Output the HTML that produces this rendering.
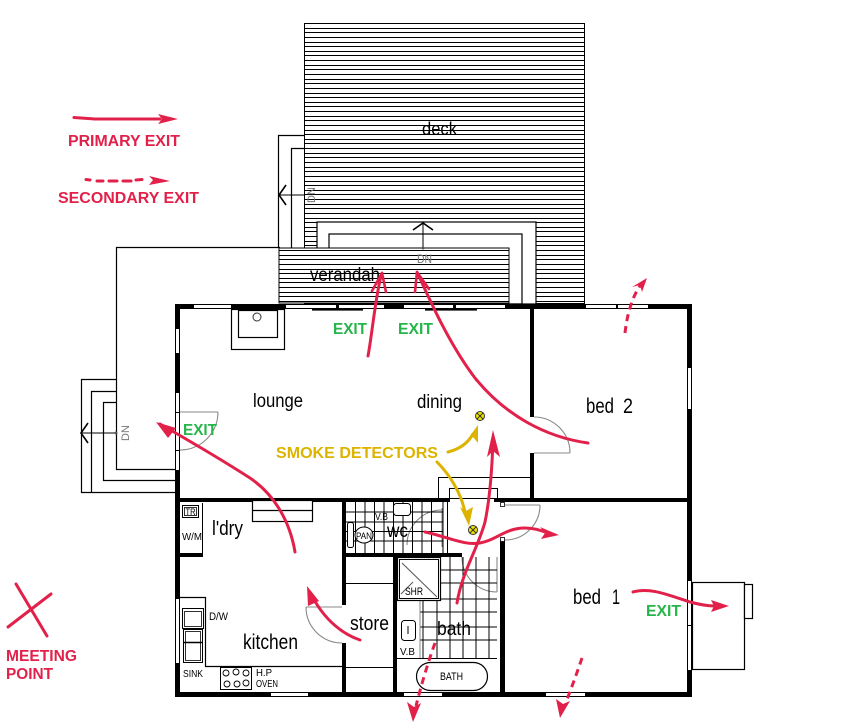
<!DOCTYPE html>
<html><head><meta charset="utf-8">
<style>
html,body{margin:0;padding:0;background:#fff;}
svg{display:block;}
</style></head><body>
<svg width="847" height="723" viewBox="0 0 847 723" xmlns="http://www.w3.org/2000/svg" font-family="'Liberation Sans', sans-serif">
<rect width="847" height="723" fill="#fff"/>

<!-- DECK -->
<rect x="304.5" y="23.5" width="280" height="280" fill="#fff" stroke="#000"/>
<path shape-rendering="crispEdges" stroke="#000" stroke-width="1" fill="none" d="M304,23.5h281M304,28.5h281M304,32.5h281M304,37.5h281M304,42.5h281M304,46.5h281M304,51.5h281M304,55.5h281M304,60.5h281M304,65.5h281M304,69.5h281M304,74.5h281M304,79.5h281M304,83.5h281M304,88.5h281M304,93.5h281M304,97.5h281M304,102.5h281M304,106.5h281M304,111.5h281M304,116.5h281M304,120.5h281M304,125.5h281M304,130.5h281M304,134.5h281M304,139.5h281M304,143.5h281M304,148.5h281M304,153.5h281M304,157.5h281M304,162.5h281M304,167.5h281M304,171.5h281M304,176.5h281M304,181.5h281M304,185.5h281M304,190.5h281M304,194.5h281M304,199.5h281M304,204.5h281M304,208.5h281M304,213.5h281M304,218.5h281M304,222.5h281M304,227.5h281M304,231.5h281M304,236.5h281M304,241.5h281M304,245.5h281M304,250.5h281M304,255.5h281M304,259.5h281M304,264.5h281M304,269.5h281M304,273.5h281M304,278.5h281M304,282.5h281M304,287.5h281M304,292.5h281M304,296.5h281M304,301.5h281"/>
<!-- verandah stairs -->
<rect x="317" y="222" width="219" height="82" fill="#fff" stroke="#000" stroke-width="1.2"/>
<rect x="329" y="234" width="193" height="70" fill="none" stroke="#000" stroke-width="1.2"/>
<!-- verandah -->
<rect x="279" y="248" width="230" height="55" fill="#fff" stroke="#000"/>
<path shape-rendering="crispEdges" stroke="#000" stroke-width="1" fill="none" d="M279,250.5h230M279,255.5h230M279,259.5h230M279,264.5h230M279,269.5h230M279,273.5h230M279,278.5h230M279,282.5h230M279,287.5h230M279,292.5h230M279,296.5h230M279,301.5h230"/>
<rect x="279" y="248" width="230" height="55" fill="none" stroke="#000"/>
<line x1="423" y1="223" x2="423" y2="248" stroke="#000" stroke-width="1"/>
<polyline points="413,230 423,223 433,230" fill="none" stroke="#000" stroke-width="1.6"/>
<circle cx="423" cy="248" r="1.5" fill="#555"/>
<text x="417" y="263" font-size="12" fill="#777" textLength="15" lengthAdjust="spacingAndGlyphs">DN</text>
<text x="310" y="281" font-size="19" fill="#000" textLength="70" lengthAdjust="spacingAndGlyphs">verandah</text>
<text x="422" y="135" font-size="18" fill="#000" textLength="35" lengthAdjust="spacingAndGlyphs">deck</text>

<!-- deck left stairs -->
<polyline points="304,135.5 278.5,135.5 278.5,248" fill="none" stroke="#000" stroke-width="1.2"/>
<polyline points="304,148.5 291.5,148.5 291.5,248" fill="none" stroke="#000" stroke-width="1.2"/>
<line x1="279" y1="195" x2="304" y2="195" stroke="#000"/>
<polyline points="286,185 279,195 286,205" fill="none" stroke="#000" stroke-width="1.6"/>
<text transform="translate(315,195) rotate(-90)" text-anchor="middle" font-size="11" fill="#777">DN</text>

<!-- L outline -->
<polyline points="280,247.5 116.5,247.5 116.5,469.5 176,469.5" fill="none" stroke="#000" stroke-width="1.2"/>
<!-- lounge stairs -->
<polyline points="116,379.5 81.5,379.5 81.5,492.5 176,492.5" fill="none" stroke="#000" stroke-width="1.2"/>
<polyline points="116,391.5 91.5,391.5 91.5,492" fill="none" stroke="#000" stroke-width="1.2"/>
<polyline points="116,402.5 103.5,402.5 103.5,480.5 176,480.5" fill="none" stroke="#000" stroke-width="1.2"/>
<line x1="82" y1="433" x2="116" y2="433" stroke="#000"/>
<polyline points="88,423 81,433 88,443" fill="none" stroke="#000" stroke-width="1.6"/>
<circle cx="116" cy="433" r="1.5" fill="#555"/>
<text transform="translate(129,433) rotate(-90)" text-anchor="middle" font-size="11" fill="#777">DN</text>

<!-- WALLS -->
<g fill="#000">
<rect x="175" y="304" width="517" height="5"/>
<rect x="175" y="304" width="5" height="393"/>
<rect x="687" y="304" width="5" height="393"/>
<rect x="175" y="692" width="517" height="5"/>
<rect x="175" y="498" width="275" height="4"/>
<rect x="494" y="498" width="198" height="4"/>
<rect x="530" y="304" width="4" height="113"/>
<rect x="530" y="453" width="4" height="47"/>
<rect x="342" y="500" width="4" height="105"/>
<rect x="342" y="643" width="4" height="54"/>
<rect x="342" y="553" width="120" height="4"/>
<rect x="393" y="555" width="4" height="140"/>
<rect x="500" y="540" width="5" height="155"/>
<rect x="175" y="553" width="28" height="4"/>
<rect x="312" y="309" width="51" height="1.6"/>
<rect x="425" y="309" width="52" height="1.6"/>
</g>
<!-- windows -->
<g fill="#fff" stroke="#000" stroke-width="1">
<rect x="193.5" y="304.5" width="38" height="4"/>
<rect x="285.5" y="304.5" width="51" height="4"/>
<rect x="338.5" y="304.5" width="46" height="4"/>
<rect x="403.5" y="304.5" width="50" height="4"/>
<rect x="455.5" y="304.5" width="50" height="4"/>
<rect x="585.5" y="304.5" width="31" height="4"/>
<rect x="617.5" y="304.5" width="31" height="4"/>
<rect x="175.5" y="328.5" width="4" height="25"/>
<rect x="175.5" y="392.5" width="4" height="20"/>
<rect x="175.5" y="412.5" width="4" height="38"/>
<rect x="175.5" y="450.5" width="4" height="20"/>
<rect x="175.5" y="598.5" width="4" height="65"/>
<rect x="687.5" y="367.5" width="4" height="42"/>
<rect x="687.5" y="580.5" width="4" height="45"/>
<rect x="687.5" y="625.5" width="4" height="45"/>
<rect x="270.5" y="692.5" width="38" height="4"/>
<rect x="403.5" y="692.5" width="39" height="4"/>
<rect x="545.5" y="692.5" width="40" height="4"/>
</g>

<!-- lounge fireplace -->
<rect x="231.5" y="309.5" width="53" height="40" fill="#fff" stroke="#000" stroke-width="1.2"/>
<rect x="238.5" y="310.5" width="39" height="27" fill="#fff" stroke="#000" stroke-width="1.2"/>
<circle cx="257" cy="317" r="4" fill="none" stroke="#333"/>

<!-- doors -->
<g fill="none" stroke="#888" stroke-width="1.1">
<line x1="180" y1="412" x2="218" y2="412"/>
<path d="M218,412 A38,38 0 0 1 180,450"/>
<line x1="534" y1="453" x2="570" y2="453"/>
<path d="M534,417 A36,36 0 0 1 570,453"/>
<line x1="505" y1="505" x2="540" y2="505"/>
<path d="M540,505 A35,35 0 0 1 505,540"/>
<line x1="306" y1="607" x2="342" y2="607"/>
<path d="M306,607 A36,36 0 0 0 342,643"/>
<line x1="442" y1="508" x2="442" y2="547"/>
<path d="M442,510 A35,35 0 0 0 407,545"/>
<line x1="497" y1="557" x2="497" y2="592"/>
<path d="M462,557 A35,35 0 0 0 497,592"/>
</g>
<rect x="500.5" y="502.5" width="4" height="4" fill="#fff" stroke="#000" stroke-width="0.8"/>
<rect x="500.5" y="537.5" width="4" height="4" fill="#fff" stroke="#000" stroke-width="0.8"/>

<!-- hallway box -->
<rect x="438.5" y="477.5" width="92" height="21" fill="#fff" stroke="#000"/>
<rect x="449.5" y="488.5" width="48" height="10" fill="#fff" stroke="#000"/>

<!-- WC tiles -->
<g stroke="#000" stroke-width="1">
<line x1="355.5" y1="502" x2="355.5" y2="553"/>
<line x1="365" y1="502" x2="365" y2="553"/>
<line x1="374.5" y1="502" x2="374.5" y2="553"/>
<line x1="384" y1="502" x2="384" y2="553"/>
<line x1="393.5" y1="502" x2="393.5" y2="553"/>
<line x1="403" y1="502" x2="403" y2="553"/>
<line x1="412.5" y1="502" x2="412.5" y2="553"/>
<line x1="422" y1="502" x2="422" y2="553"/>
<line x1="431.5" y1="502" x2="431.5" y2="553"/>
<line x1="443" y1="502" x2="443" y2="553"/>
<line x1="447.5" y1="502" x2="447.5" y2="553"/>
<line x1="346" y1="512" x2="443" y2="512"/>
<line x1="346" y1="522" x2="443" y2="522"/>
<line x1="346" y1="531.5" x2="443" y2="531.5"/>
<line x1="346" y1="541" x2="443" y2="541"/>
</g>
<rect x="393.5" y="503.5" width="17" height="12" rx="3" fill="#fff" stroke="#000"/>
<rect x="347.5" y="522.5" width="6" height="25" rx="2" fill="#fff" stroke="#000"/>
<ellipse cx="364" cy="535" rx="9" ry="8" fill="#fff" stroke="#000"/>
<text x="356" y="539" font-size="9" fill="#000" textLength="16" lengthAdjust="spacingAndGlyphs">PAN</text>
<text x="375" y="520" font-size="10" fill="#000" textLength="13" lengthAdjust="spacingAndGlyphs">V.B</text>
<text x="387" y="537" font-size="19" fill="#000" textLength="21" lengthAdjust="spacingAndGlyphs">wc</text>

<!-- laundry -->
<line x1="202.5" y1="503" x2="202.5" y2="553" stroke="#000"/>
<rect x="182.5" y="505.5" width="16" height="12" fill="#fff" stroke="#000"/>
<rect x="184.5" y="507.5" width="12" height="8" fill="none" stroke="#000" stroke-width="0.8"/>
<text x="185.5" y="515" font-size="9" fill="#000" textLength="10" lengthAdjust="spacingAndGlyphs">TR</text>
<text x="182" y="540" font-size="10" fill="#000" textLength="20" lengthAdjust="spacingAndGlyphs">W/M</text>
<rect x="252.5" y="500.5" width="60" height="21" fill="#fff" stroke="#000" stroke-width="1.2"/>
<line x1="252" y1="510.5" x2="312" y2="510.5" stroke="#000" stroke-width="1.2"/>
<text x="212" y="535" font-size="20" fill="#000" textLength="31" lengthAdjust="spacingAndGlyphs">l'dry</text>

<!-- kitchen -->
<polyline points="180,597.5 205.5,597.5 205.5,666.5 342,666.5" fill="none" stroke="#000" stroke-width="1.2"/>
<rect x="182.5" y="608.5" width="21" height="20" fill="#fff" stroke="#000"/>
<rect x="184.5" y="611.5" width="17" height="15" fill="none" stroke="#000" stroke-width="0.8"/>
<rect x="183.5" y="629.5" width="19" height="33" fill="#fff" stroke="#000"/>
<rect x="185.5" y="631.5" width="15" height="29" fill="none" stroke="#000" stroke-width="0.8"/>
<line x1="184" y1="642.5" x2="202" y2="642.5" stroke="#000" stroke-width="1.4"/>
<text x="209" y="620" font-size="11" fill="#000" textLength="19" lengthAdjust="spacingAndGlyphs">D/W</text>
<text x="183" y="677" font-size="10" fill="#000" textLength="20" lengthAdjust="spacingAndGlyphs">SINK</text>
<rect x="220.5" y="667.5" width="31" height="22" fill="#fff" stroke="#000"/>
<g fill="none" stroke="#000" stroke-width="0.9">
<circle cx="226" cy="673" r="3"/><circle cx="236" cy="672" r="3"/><circle cx="246" cy="673" r="3"/>
<circle cx="227" cy="684" r="3"/><circle cx="237" cy="684" r="3"/><circle cx="246" cy="683" r="3"/>
</g>
<text x="256" y="676" font-size="10" fill="#000" textLength="16" lengthAdjust="spacingAndGlyphs">H.P</text>
<text x="256" y="687" font-size="10" fill="#000" textLength="22" lengthAdjust="spacingAndGlyphs">OVEN</text>
<text x="243" y="649" font-size="21" fill="#000" textLength="55" lengthAdjust="spacingAndGlyphs">kitchen</text>

<!-- store -->
<line x1="346" y1="583.5" x2="393" y2="583.5" stroke="#000"/>
<line x1="346" y1="667.5" x2="393" y2="667.5" stroke="#000"/>
<text x="350" y="630" font-size="20" fill="#000" textLength="39" lengthAdjust="spacingAndGlyphs">store</text>

<!-- bath -->
<g stroke="#000" stroke-width="1">
<line x1="450" y1="557" x2="450" y2="658"/>
<line x1="463" y1="557" x2="463" y2="658"/>
<line x1="476" y1="557" x2="476" y2="658"/>
<line x1="489" y1="557" x2="489" y2="658"/>
<line x1="423" y1="600" x2="423" y2="658"/>
<line x1="437" y1="600" x2="437" y2="658"/>
<line x1="440" y1="570" x2="497" y2="570"/>
<line x1="440" y1="583" x2="497" y2="583"/>
<line x1="420" y1="599" x2="497" y2="599"/>
<line x1="420" y1="612" x2="497" y2="612"/>
<line x1="420" y1="627" x2="497" y2="627"/>
<line x1="420" y1="640" x2="497" y2="640"/>
<line x1="397" y1="658.5" x2="497" y2="658.5"/>
</g>
<line x1="420" y1="600" x2="420" y2="658" stroke="#888"/>
<rect x="397.5" y="557.5" width="43" height="43" fill="#fff" stroke="#000" stroke-width="1.2"/>
<rect x="399.5" y="559.5" width="39" height="39" fill="none" stroke="#000"/>
<line x1="402" y1="563" x2="437" y2="597" stroke="#555"/>
<line x1="401" y1="594" x2="413" y2="582" stroke="#555"/>
<text x="405" y="595" font-size="11" fill="#000" textLength="18" lengthAdjust="spacingAndGlyphs">SHR</text>
<rect x="401.5" y="620.5" width="14" height="20" rx="3" fill="#fff" stroke="#000"/>
<line x1="408" y1="626" x2="408" y2="634" stroke="#000"/>
<text x="400" y="655" font-size="10" fill="#000" textLength="15" lengthAdjust="spacingAndGlyphs">V.B</text>
<rect x="416.5" y="662.5" width="71" height="28" rx="14" fill="#fff" stroke="#000" stroke-width="1.2"/>
<text x="440" y="680" font-size="11" fill="#000" textLength="23" lengthAdjust="spacingAndGlyphs">BATH</text>
<text x="437" y="635" font-size="19" fill="#000" textLength="34" lengthAdjust="spacingAndGlyphs">bath</text>

<!-- bed1 landing -->
<rect x="692.5" y="582.5" width="52" height="87" fill="#fff" stroke="#000" stroke-width="1.2"/>
<rect x="744.5" y="584.5" width="8" height="34" fill="#fff" stroke="#000" stroke-width="1.2"/>

<!-- room labels -->
<text x="253" y="407" font-size="19" fill="#000" textLength="50" lengthAdjust="spacingAndGlyphs">lounge</text>
<text x="417" y="408" font-size="19" fill="#000" textLength="45" lengthAdjust="spacingAndGlyphs">dining</text>
<text x="586" y="413" font-size="21" fill="#000" textLength="28" lengthAdjust="spacingAndGlyphs">bed</text>
<text x="623" y="413" font-size="21" fill="#000" textLength="10" lengthAdjust="spacingAndGlyphs">2</text>
<text x="573" y="604" font-size="21" fill="#000" textLength="28" lengthAdjust="spacingAndGlyphs">bed</text>
<text x="612" y="604" font-size="21" fill="#000" textLength="8" lengthAdjust="spacingAndGlyphs">1</text>

<!-- green EXIT labels -->
<g font-weight="bold" font-size="16" fill="#26b54a">
<text x="333" y="334" textLength="34" lengthAdjust="spacingAndGlyphs">EXIT</text>
<text x="398" y="334" textLength="35" lengthAdjust="spacingAndGlyphs">EXIT</text>
<text x="183" y="435" textLength="34" lengthAdjust="spacingAndGlyphs">EXIT</text>
<text x="646" y="616" textLength="35" lengthAdjust="spacingAndGlyphs">EXIT</text>
</g>
<text x="276" y="458" font-weight="bold" font-size="16" fill="#dcb400" textLength="162" lengthAdjust="spacingAndGlyphs">SMOKE DETECTORS</text>

<!-- red primary arrows -->
<g fill="none" stroke="#e2214b" stroke-width="3" stroke-linecap="round">
<path d="M368,356 C372,335 375,300 381,276"/>
<path d="M588,443 C545,437 505,415 475,378 C450,345 432,305 418,274"/>
<path d="M295,552 C290,522 275,495 250,478 C222,460 188,440 160,424"/>
<path d="M360,640 C345,635 325,622 311,594"/>
<path d="M457,603 C462,572 478,548 485,522 C490,498 492,470 493,440"/>
<path d="M425,532 C445,536 465,546 480,543 C497,540 505,528 525,528 C535,528 542,531 548,533"/>
<path d="M633,592 C650,587 668,595 690,602 C705,606 712,606 718,606"/>
</g>
<g fill="none" stroke="#e2214b" stroke-width="2.6" stroke-linecap="round">
<line x1="372" y1="291" x2="382" y2="273"/>
<line x1="386" y1="292" x2="382" y2="273"/>
<line x1="415" y1="292" x2="417" y2="272"/>
<line x1="429" y1="289" x2="417" y2="272"/>
</g>
<g fill="#e2214b">
<polygon points="156,422 176,428 168,438"/>
<polygon points="307,586 308,606 319,601"/>
<polygon points="493,430 487,457 493,451 500,457"/>
<polygon points="559,535 540,527 545,533 541,539"/>
<polygon points="729,606 711,600 714,606 711,612"/>
</g>

<!-- red dashed secondary arrows -->
<g fill="none" stroke="#e2214b" stroke-width="3" stroke-dasharray="7,5">
<path d="M625,333 C627,315 632,296 642,283"/>
<path d="M435,643 C428,662 421,686 416,706"/>
<path d="M582,658 C578,670 573,684 566,702"/>
</g>
<g fill="#e2214b">
<polygon points="647,278 632,287 640,285 642,292"/>
<polygon points="413,722 407,702 414,707 421,703"/>
<polygon points="560,718 556,699 563,704 570,701"/>
</g>

<!-- yellow arrows -->
<g fill="none" stroke="#dcb400" stroke-width="3" stroke-linecap="round">
<path d="M448,452 C460,449 468,443 473,434"/>
<path d="M437,462 C450,475 461,493 465,512"/>
</g>
<g fill="#dcb400">
<polygon points="478,425 467,440 473,437 478,443"/>
<polygon points="469,526 460,507 466,511 473,507"/>
</g>

<!-- smoke detectors -->
<g>
<circle cx="480" cy="416" r="4.5" fill="#f2e600" stroke="#333" stroke-width="1"/>
<path d="M477,413 L483,419 M483,413 L477,419" stroke="#333" stroke-width="1"/>
<circle cx="473" cy="530" r="4.5" fill="#f2e600" stroke="#333" stroke-width="1"/>
<path d="M470,527 L476,533 M476,527 L470,533" stroke="#333" stroke-width="1"/>
</g>

<!-- LEGEND -->
<path d="M74,117.5 L95,119 L160,119" fill="none" stroke="#e2214b" stroke-width="3" stroke-linecap="round"/>
<polygon points="178,119 158,114 162,119 158,124" fill="#e2214b"/>
<text x="68" y="146" font-weight="bold" font-size="16" fill="#e2214b" textLength="112" lengthAdjust="spacingAndGlyphs">PRIMARY EXIT</text>
<g stroke="#e2214b" stroke-width="3" stroke-linecap="round">
<line x1="86" y1="179.5" x2="90" y2="180"/>
<line x1="97" y1="181" x2="103" y2="181"/>
<line x1="109" y1="181" x2="117" y2="181"/>
<line x1="123" y1="181" x2="131" y2="181"/>
<line x1="136" y1="180" x2="142" y2="179.5"/>
</g>
<polygon points="170,181 149,176 153,180 149,185" fill="#e2214b"/>
<text x="58" y="203" font-weight="bold" font-size="16" fill="#e2214b" textLength="141" lengthAdjust="spacingAndGlyphs">SECONDARY EXIT</text>

<!-- meeting point -->
<g stroke="#e2214b" stroke-width="3" stroke-linecap="round">
<line x1="16" y1="584" x2="47" y2="636"/>
<line x1="8" y1="627" x2="51" y2="594"/>
</g>
<text x="6" y="661" font-weight="bold" font-size="16" fill="#e2214b" textLength="71" lengthAdjust="spacingAndGlyphs">MEETING</text>
<text x="6" y="679" font-weight="bold" font-size="16" fill="#e2214b" textLength="47" lengthAdjust="spacingAndGlyphs">POINT</text>
</svg>
</body></html>
